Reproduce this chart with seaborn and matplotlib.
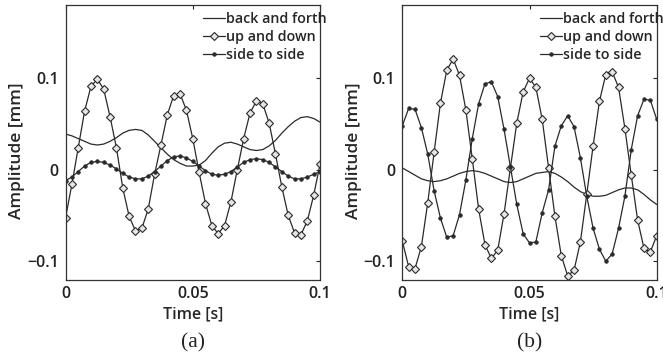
import matplotlib
matplotlib.use("Agg")
import matplotlib.pyplot as plt
import pandas as pd
import seaborn as sns

# sample times [s]
time_s = [0.0, 0.0025, 0.005, 0.0075, 0.01, 0.0125, 0.015, 0.0175, 0.02, 0.0225,
          0.025, 0.0275, 0.03, 0.0325, 0.035, 0.0375, 0.04, 0.0425, 0.045, 0.0475,
          0.05, 0.0525, 0.055, 0.0575, 0.06, 0.0625, 0.065, 0.0675, 0.07, 0.0725,
          0.075, 0.0775, 0.08, 0.0825, 0.085, 0.0875, 0.09, 0.0925, 0.095, 0.0975, 0.1]

# panel (a)
a_back_forth = [0.039, 0.037, 0.034, 0.031, 0.028, 0.027, 0.028, 0.031, 0.035, 0.040,
                0.043, 0.044, 0.043, 0.038, 0.031, 0.024, 0.017, 0.011, 0.007, 0.004,
                0.004, 0.005, 0.010, 0.018, 0.025, 0.029, 0.030, 0.028, 0.025, 0.022,
                0.021, 0.022, 0.026, 0.032, 0.040, 0.047, 0.053, 0.057, 0.058, 0.056, 0.052]
a_up_down = [-0.053, -0.016, 0.024, 0.064, 0.091, 0.099, 0.088, 0.058, 0.024, -0.020,
             -0.051, -0.067, -0.064, -0.043, -0.005, 0.027, 0.060, 0.081, 0.083, 0.065,
             0.034, -0.003, -0.037, -0.061, -0.070, -0.061, -0.035, 0.000, 0.034, 0.062,
             0.075, 0.072, 0.051, 0.017, -0.019, -0.050, -0.069, -0.071, -0.056, -0.028, 0.006]
a_side_side = [-0.012, -0.008, -0.002, 0.004, 0.008, 0.009, 0.008, 0.005, 0.001, -0.004,
               -0.008, -0.010, -0.010, -0.007, -0.002, 0.004, 0.010, 0.014, 0.015, 0.013,
               0.009, 0.004, -0.001, -0.005, -0.006, -0.005, -0.002, 0.003, 0.008, 0.011,
               0.012, 0.011, 0.008, 0.003, -0.002, -0.007, -0.010, -0.010, -0.008, -0.005, -0.002]

# panel (b)
b_back_forth = [0.002, -0.002, -0.006, -0.010, -0.012, -0.013, -0.012, -0.010, -0.007, -0.004,
                -0.002, -0.001, -0.002, -0.004, -0.007, -0.010, -0.013, -0.014, -0.013, -0.010,
                -0.007, -0.004, -0.003, -0.002, -0.004, -0.008, -0.013, -0.019, -0.024, -0.027,
                -0.029, -0.029, -0.028, -0.025, -0.022, -0.020, -0.020, -0.022, -0.027, -0.033, -0.038]
b_up_down = [-0.078, -0.106, -0.108, -0.084, -0.036, 0.019, 0.073, 0.109, 0.121, 0.103,
             0.065, 0.012, -0.043, -0.082, -0.097, -0.088, -0.048, 0.002, 0.051, 0.085,
             0.100, 0.090, 0.055, 0.002, -0.051, -0.094, -0.116, -0.110, -0.079, -0.027,
             0.026, 0.075, 0.104, 0.107, 0.090, 0.045, -0.006, -0.055, -0.086, -0.090, -0.072]
b_side_side = [0.048, 0.067, 0.066, 0.046, 0.017, -0.023, -0.053, -0.074, -0.072, -0.049,
               -0.011, 0.034, 0.072, 0.094, 0.096, 0.080, 0.044, 0.003, -0.038, -0.070,
               -0.080, -0.079, -0.047, -0.022, 0.026, 0.048, 0.059, 0.047, 0.013, -0.029,
               -0.064, -0.087, -0.100, -0.092, -0.064, -0.029, 0.022, 0.059, 0.077, 0.076, 0.055]

series_labels = ["back and forth", "up and down", "side to side"]
panel_labels = ["(a)", "(b)"]
x_ticks = [0, 0.05, 0.1]
x_ticklabels = ["0", "0.05", "0.1"]
y_ticks = [-0.1, 0, 0.1]
y_ticklabels = ["\u22120.1", "0", "0.1"]

sns.set_theme(style="white")
plt.rcParams["font.family"] = ["Open Sans", "DejaVu Sans"]

line_col = "#2a2a2a"
styles = [
    dict(marker=None),
    dict(marker="D", markersize=4.2, markerfacecolor="#e6e6e6", markeredgecolor=line_col, markeredgewidth=0.8),
    dict(marker="o", markersize=2.6, markerfacecolor=line_col, markeredgecolor=line_col, markeredgewidth=0.5),
]

fig = plt.figure(figsize=(6.63, 3.6), dpi=100)
ax_a = fig.add_axes([0.0988, 0.2236, 0.3839, 0.7625])
ax_b = fig.add_axes([0.6068, 0.2236, 0.3837, 0.7625])

panels = [(ax_a, [a_back_forth, a_up_down, a_side_side]),
          (ax_b, [b_back_forth, b_up_down, b_side_side])]

for (ax, data), plab in zip(panels, panel_labels):
    for vals, lab, st in zip(data, series_labels, styles):
        df = pd.DataFrame({"t": time_s, "v": vals})
        sns.lineplot(data=df, x="t", y="v", ax=ax, color=line_col, linewidth=0.9,
                     label=lab, **st)
    ax.set_xlim(0, 0.1)
    ax.set_ylim(-0.12, 0.18)
    ax.set_xticks(x_ticks)
    ax.set_xticklabels(x_ticklabels)
    ax.set_yticks(y_ticks)
    ax.set_yticklabels(y_ticklabels)
    ax.tick_params(direction="in", top=True, right=True, length=3, width=0.8,
                   labelsize=11.5, pad=5, colors="#222222")
    for lbl in ax.get_xticklabels() + ax.get_yticklabels():
        lbl.set_fontweight("semibold")
    for sp in ax.spines.values():
        sp.set_color("#333333")
        sp.set_linewidth(0.9)
    ax.set_xlabel("Time [s]", fontsize=11.5, fontweight="semibold", labelpad=3)
    ax.set_ylabel("Amplitude [mm]", fontsize=12.5, fontweight="semibold")
    ax.yaxis.set_label_coords(-0.158, 0.47)
    ax.legend(loc="upper left", bbox_to_anchor=(0.54, 0.975), frameon=False,
              handlelength=1.55, handletextpad=0.08, labelspacing=0.3,
              borderaxespad=0, borderpad=0,
              prop={"weight": "semibold", "size": 10.3})
    ax.text(0.5, -0.231, plab, transform=ax.transAxes, ha="center", va="center",
            fontsize=15.5, family="Liberation Serif", color="#222222")

fig.savefig("out.png", dpi=100)
